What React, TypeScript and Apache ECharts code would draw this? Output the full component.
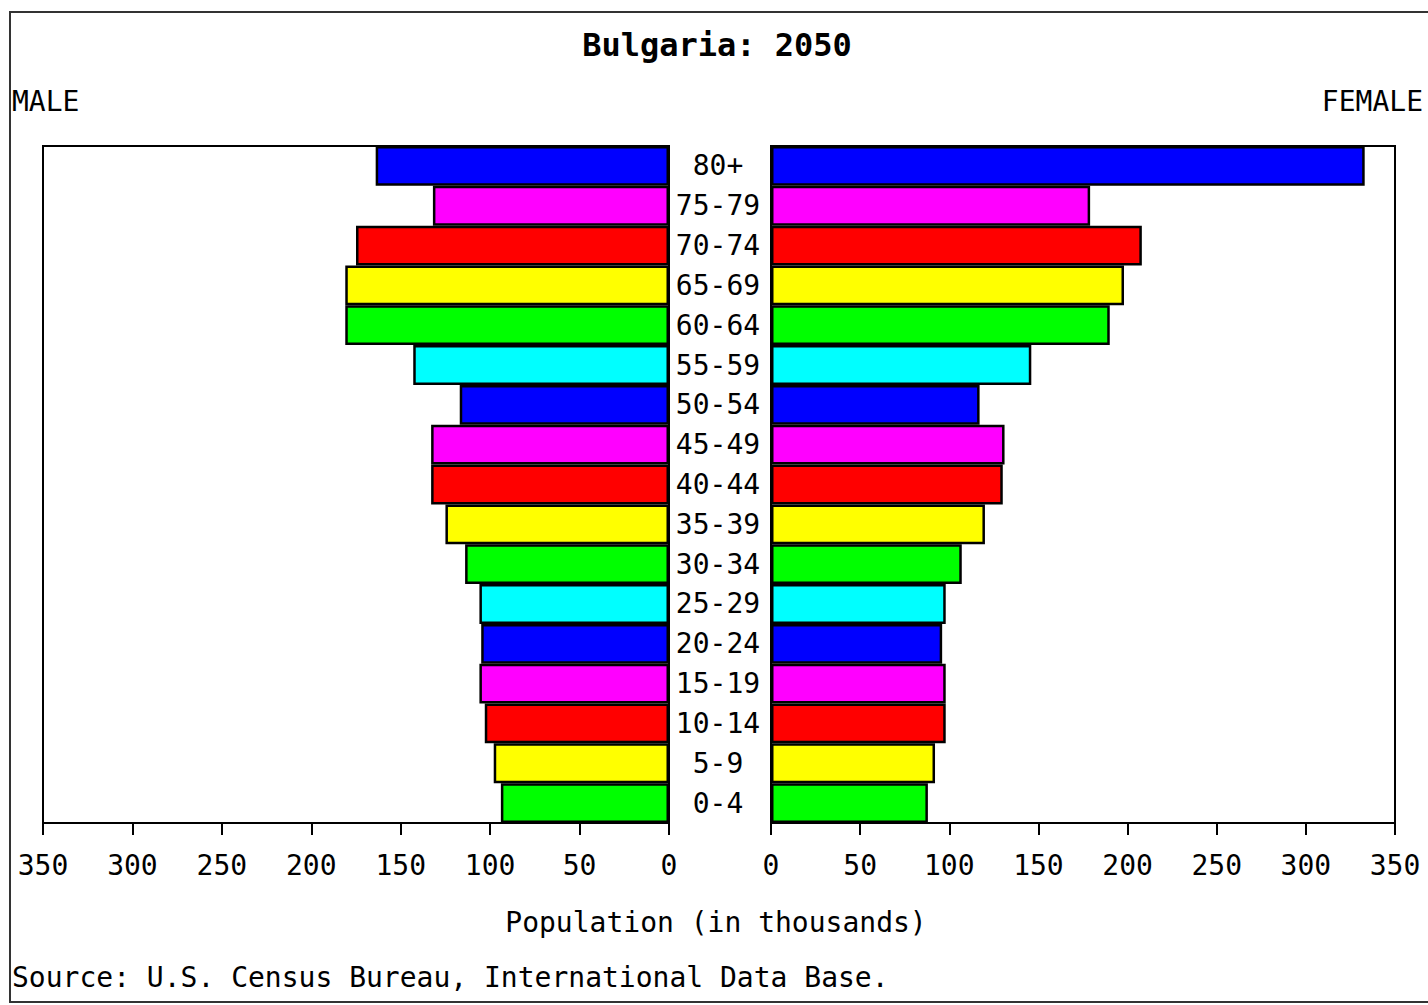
import React, { useEffect, useRef } from "react";
import * as echarts from "echarts";

const ageGroups = ["0-4", "5-9", "10-14", "15-19", "20-24", "25-29", "30-34", "35-39", "40-44", "45-49", "50-54", "55-59", "60-64", "65-69", "70-74", "75-79", "80+"];
const maleValues = [94, 98, 103, 106, 105, 106, 114, 125, 133, 133, 117, 143, 181, 181, 175, 132, 164];
const femaleValues = [88, 92, 98, 98, 96, 98, 107, 120, 130, 131, 117, 146, 190, 198, 208, 179, 333];
const xTicks = [0, 50, 100, 150, 200, 250, 300, 350];
const barColors = ["#00ff00", "#ffff00", "#ff0000", "#ff00ff", "#0000ff", "#00ffff"];

const FONT = "'DejaVu Sans Mono', 'Liberation Mono', monospace";

export default function App() {
  const ref = useRef<HTMLDivElement>(null);
  useEffect(() => {
    document.body.style.margin = "0";
    const chart = echarts.init(ref.current!, null, { renderer: "svg" });
    const xMax = xTicks[xTicks.length - 1];
    const xAxisCommon = {
      type: "value",
      min: 0,
      max: xMax,
      interval: 50,
      splitLine: { show: false },
      axisLine: { show: true, lineStyle: { color: "#000", width: 2 } },
      axisTick: { show: true, inside: false, length: 12, lineStyle: { color: "#000", width: 2 } },
      axisLabel: { fontFamily: FONT, fontSize: 28, color: "#000", margin: 28 },
    };
    const colorFn = (p: any) => barColors[p.dataIndex % barColors.length];
    chart.setOption({
      animation: false,
      backgroundColor: "#fff",
      grid: [
        { left: 43, right: 759, top: 146, bottom: 182, show: true, borderColor: "#000", borderWidth: 2 },
        { left: 771, right: 33, top: 146, bottom: 182, show: true, borderColor: "#000", borderWidth: 2 },
      ],
      xAxis: [
        { ...xAxisCommon, gridIndex: 0, inverse: true },
        { ...xAxisCommon, gridIndex: 1 },
      ],
      yAxis: [
        {
          type: "category",
          gridIndex: 0,
          data: ageGroups,
          position: "right",
          axisLine: { show: false },
          axisTick: { show: false },
          axisLabel: { fontFamily: FONT, fontSize: 28, color: "#000", margin: 49, align: "center" },
        },
        {
          type: "category",
          gridIndex: 1,
          data: ageGroups,
          axisLine: { show: false },
          axisTick: { show: false },
          axisLabel: { show: false },
        },
      ],
      series: [
        {
          name: "Male",
          type: "bar",
          xAxisIndex: 0,
          yAxisIndex: 0,
          data: maleValues,
          barCategoryGap: "0%",
          itemStyle: { color: colorFn, borderColor: "#000", borderWidth: 2.5 },
        },
        {
          name: "Female",
          type: "bar",
          xAxisIndex: 1,
          yAxisIndex: 1,
          data: femaleValues,
          barCategoryGap: "0%",
          itemStyle: { color: colorFn, borderColor: "#000", borderWidth: 2.5 },
        },
      ],
      graphic: [
        { type: "rect", shape: { x: 10, y: 12, width: 1430, height: 990 }, style: { fill: "none", stroke: "#333", lineWidth: 2 }, silent: true },
        { type: "text", x: 717, y: 45, style: { text: "Bulgaria: 2050", font: `bold 32px ${FONT}`, fill: "#000", textAlign: "center", textVerticalAlign: "middle" } },
        { type: "text", x: 12, y: 101, style: { text: "MALE", font: `28px ${FONT}`, fill: "#000", textAlign: "left", textVerticalAlign: "middle" } },
        { type: "text", x: 1423, y: 101, style: { text: "FEMALE", font: `28px ${FONT}`, fill: "#000", textAlign: "right", textVerticalAlign: "middle" } },
        { type: "text", x: 716, y: 922, style: { text: "Population (in thousands)", font: `28px ${FONT}`, fill: "#000", textAlign: "center", textVerticalAlign: "middle" } },
        { type: "text", x: 12, y: 977, style: { text: "Source: U.S. Census Bureau, International Data Base.", font: `28px ${FONT}`, fill: "#000", textAlign: "left", textVerticalAlign: "middle" } },
      ],
    });
    return () => chart.dispose();
  }, []);
  return <div ref={ref} style={{ width: 1428, height: 1005 }} />;
}
